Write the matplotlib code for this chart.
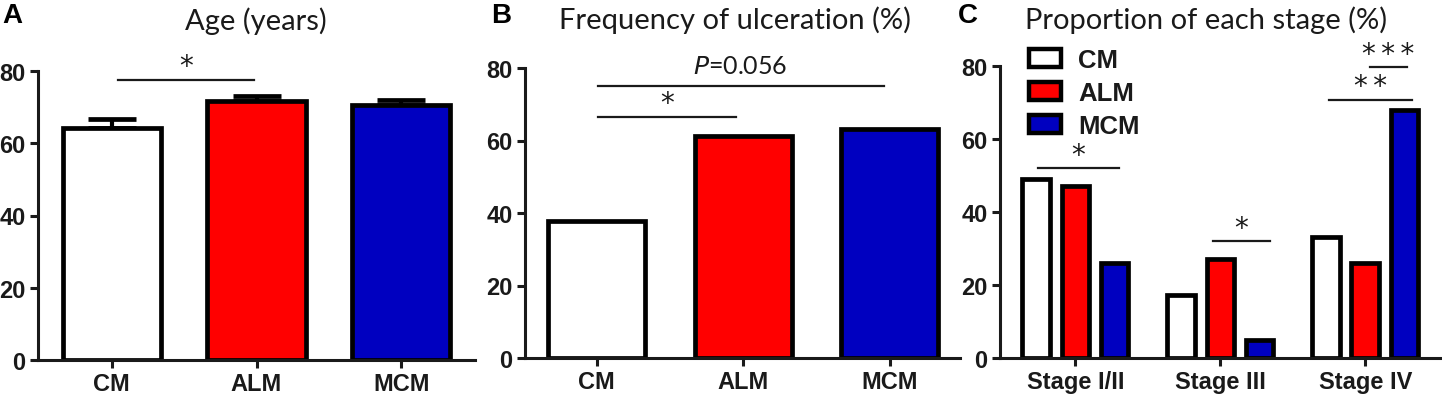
import matplotlib
matplotlib.use("Agg")
import matplotlib.pyplot as plt
from matplotlib.patches import Patch
import numpy as np

groups = ["CM", "ALM", "MCM"]
colors = ["#ffffff", "#ff0000", "#0000c0"]

age_mean = [64.2, 71.7, 70.6]
age_err = [2.6, 1.4, 1.3]

ulcer_pct = [37.8, 61.2, 63.2]

stages = ["Stage I/II", "Stage III", "Stage IV"]
stage_cm = [49.0, 17.3, 33.2]
stage_alm = [47.0, 27.0, 26.0]
stage_mcm = [26.0, 5.0, 68.0]

ink = "#1a1a1a"
tick_font = {"family": "Liberation Sans", "weight": "bold", "size": 17}
title_font = {"family": "Lato", "size": 21}

plt.rcParams["font.family"] = "Liberation Sans"

fig = plt.figure(figsize=(14.42, 4.06), dpi=100)
W, H = 1442, 406


def make_axes(x0, x1, y_top=72, y_bot=361):
    return fig.add_axes([x0 / W, 1 - y_bot / H, (x1 - x0) / W, (y_bot - y_top) / H])


def style(ax, labels, xlim):
    ax.set_ylim(0, 80)
    ax.set_xlim(*xlim)
    ax.set_yticks([0, 20, 40, 60, 80])
    ax.set_xticks(range(len(labels)))
    ax.set_xticklabels(labels, fontdict=tick_font, color=ink)
    for lab in ax.get_yticklabels():
        lab.set_fontproperties(tick_font)
        lab.set_color(ink)
    for s in ["top", "right"]:
        ax.spines[s].set_visible(False)
    for s in ["left", "bottom"]:
        ax.spines[s].set_linewidth(2.2)
        ax.spines[s].set_color(ink)
    ax.tick_params(axis="both", width=2.2, length=6, pad=3, color=ink)
    ax.patch.set_alpha(0)


def sig(ax, x0, x1, y, n):
    ax.plot([x0, x1], [y, y], color=ink, lw=1.6, clip_on=False)
    if n:
        stars = "\u2009".join(["*"] * n)
        ax.text((x0 + x1) / 2, y + 1.5, stars, ha="center", va="baseline", fontsize=20,
                family="DejaVu Sans", color=ink, clip_on=False)


x = np.arange(3)

# Panel A
axA = make_axes(38, 475)
axA.bar(x, age_mean, width=0.68, color=colors, edgecolor="black", linewidth=3.4, zorder=2)
axA.errorbar(x, age_mean, yerr=[np.zeros(3), age_err], fmt="none", ecolor="black",
             elinewidth=3, capsize=17, capthick=3.4, zorder=1)
style(axA, groups, (-0.51, 2.51))
sig(axA, 0.04, 0.98, 77.6, 1)

# Panel B
axB = make_axes(525, 960, 69, 359)
axB.bar(x, ulcer_pct, width=0.66, color=colors, edgecolor="black", linewidth=3.4)
style(axB, groups, (-0.49, 2.48))
sig(axB, 0.01, 0.95, 66.5, 1)
axB.plot([0.01, 1.96], [75, 75], color=ink, lw=1.6, clip_on=False)
axB.text(0.98, 77.5, "$\\it{P}$=0.056", ha="center", va="bottom", fontsize=18,
         family="Lato", color=ink, clip_on=False)

# Panel C
axC = make_axes(1000, 1442, 67, 359)
off = 0.27
bw = 0.19
series = [stage_cm, stage_alm, stage_mcm]
for i, vals in enumerate(series):
    axC.bar(x + (i - 1) * off, vals, width=bw, color=colors[i], edgecolor="black",
            linewidth=3.4, label=groups[i])
style(axC, stages, (-0.52, 2.53))
sig(axC, -0.26, 0.30, 52, 1)
sig(axC, 0.95, 1.34, 32, 1)
sig(axC, 1.75, 2.32, 70.7, 2)
sig(axC, 2.03, 2.29, 79.7, 3)

handles = [Patch(facecolor=c, edgecolor="black", linewidth=3.2) for c in colors]
leg = axC.legend(handles, groups, loc="upper left", bbox_to_anchor=(1024 / W, 1 - 44 / H),
                 bbox_transform=fig.transFigure, borderaxespad=0, borderpad=0.2,
                 frameon=False, prop={"family": "Liberation Sans", "weight": "bold", "size": 18.5},
                 handlelength=1.25, handleheight=0.7, labelspacing=0.35, handletextpad=0.65)
for t in leg.get_texts():
    t.set_color(ink)

# titles and panel letters
fig.text(256 / W, 1 - 21 / H, "Age (years)", ha="center", va="center", color=ink, **title_font)
fig.text(735 / W, 1 - 20 / H, "Frequency of ulceration (%)", ha="center", va="center",
         color=ink, **title_font)
fig.text(1206 / W, 1 - 20 / H, "Proportion of each stage (%)", ha="center", va="center",
         color=ink, **title_font)
for lx, letter in [(2, "A"), (491, "B"), (958, "C")]:
    fig.text(lx / W, 1 - 16 / H, letter, ha="left", va="center",
             family="Liberation Sans", weight="bold", size=20, color="black")

fig.savefig("out.png", dpi=100)
